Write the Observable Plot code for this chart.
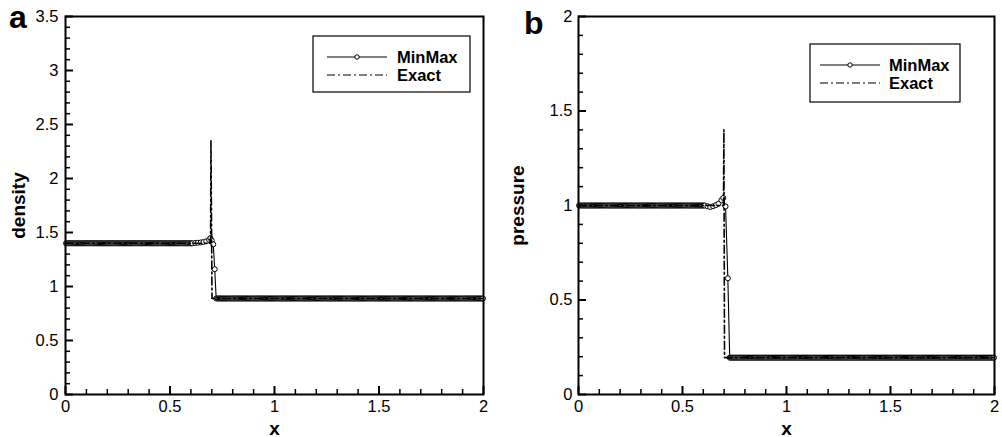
<!DOCTYPE html>
<html>
<head>
<meta charset="utf-8">
<script src="https://cdn.jsdelivr.net/npm/d3@7"></script>
<script src="https://cdn.jsdelivr.net/npm/@observablehq/plot@0.6"></script>
<style>
  html, body { margin: 0; padding: 0; background: white; }
  body { width: 1002px; height: 437px; overflow: hidden; font-family: "Liberation Sans", Arial, Helvetica, sans-serif; color: black; }
  #wrap { position: relative; width: 1002px; height: 437px; }
  .panel { position: absolute; top: 0; width: 501px; height: 437px; }
  .panel svg.plot { position: absolute; left: 0; top: 0; }
  .panel svg.overlay { position: absolute; left: 0; top: 0; pointer-events: none; }
  g[aria-label="y-axis label"], g[aria-label="x-axis label"] { font-weight: bold !important; font-size: 19px !important; fill: black !important; }
  g[aria-label="y-axis tick label"], g[aria-label="x-axis tick label"] { font-size: 16.5px !important; fill: black !important; }
</style>
</head>
<body>
<div id="wrap"></div>
<script>
// ---------------- data ----------------
const xDomain = [0, 2];
const xMajorTicks = [0, 0.5, 1, 1.5, 2];
const xMinorTicks = [0.1, 0.2, 0.3, 0.4, 0.6, 0.7, 0.8, 0.9, 1.1, 1.2, 1.3, 1.4, 1.6, 1.7, 1.8, 1.9];

const densityDomain = [0, 3.5];
const densityMajorTicks = [0, 0.5, 1, 1.5, 2, 2.5, 3, 3.5];
const pressureDomain = [0, 2];
const pressureMajorTicks = [0, 0.5, 1, 1.5, 2];

const meshCells = 400;

// MinMax scheme: flat states on both sides of the wave
const densityLeft = 1.4;
const densityRight = 0.889;
const pressureLeft = 1.0;
const pressureRight = 0.195;

// MinMax scheme: cells read near the discontinuity
const densityTransX = [0.607, 0.620, 0.633, 0.647, 0.660, 0.673, 0.687, 0.693, 0.700, 0.707, 0.714, 0.721];
const densityTransY = [1.400, 1.403, 1.405, 1.408, 1.412, 1.418, 1.432, 1.448, 1.425, 1.390, 1.160, 0.889];
const pressureTransX = [0.607, 0.620, 0.633, 0.647, 0.660, 0.673, 0.687, 0.696, 0.707, 0.718, 0.727];
const pressureTransY = [1.000, 0.996, 0.992, 0.996, 1.002, 1.010, 1.028, 1.040, 0.995, 0.615, 0.195];

// Exact solution (dash-dot)
const exactDensityX = [0, 0.694, 0.696, 0.701, 2];
const exactDensityY = [1.4, 1.4, 2.35, 0.889, 0.889];
const exactPressureX = [0, 0.697, 0.699, 0.702, 2];
const exactPressureY = [1.0, 1.0, 1.40, 0.195, 0.195];

// ---------------- build tables ----------------
function minmaxSeries(left, right, tx, ty) {
  const lo = tx[0], hi = tx[tx.length - 1];
  const pts = [];
  for (let i = 0; i < meshCells; i++) {
    const x = (i + 0.5) * (xDomain[1] - xDomain[0]) / meshCells;
    if (x < lo - 0.004) pts.push({x, y: left});
    else if (x > hi + 0.004) pts.push({x, y: right});
  }
  tx.forEach((x, i) => pts.push({x, y: ty[i]}));
  return pts.sort((a, b) => a.x - b.x);
}
function zipXY(xs, ys) { return xs.map((x, i) => ({x, y: ys[i]})); }
function minorOf(major) {
  const out = [];
  for (let i = 0; i < major.length - 1; i++)
    for (let k = 1; k < 5; k++) out.push(+(major[i] + k * (major[i + 1] - major[i]) / 5).toFixed(3));
  return out;
}

const densityMinMax = minmaxSeries(densityLeft, densityRight, densityTransX, densityTransY);
const pressureMinMax = minmaxSeries(pressureLeft, pressureRight, pressureTransX, pressureTransY);
const densityExact = zipXY(exactDensityX, exactDensityY);
const pressureExact = zipXY(exactPressureX, exactPressureY);

const fmt = d => String(d);
const W = 501, H = 437, MT = 16, MB = 43;
const FONT = "Liberation Sans, Arial, Helvetica, sans-serif";

function panel(cfg) {
  const innerW = W - cfg.marginLeft - cfg.marginRight;
  const innerH = H - MT - MB;
  const yMinor = minorOf(cfg.yTicks);
  return Plot.plot({
    width: W, height: H,
    marginLeft: cfg.marginLeft, marginRight: cfg.marginRight, marginTop: MT, marginBottom: MB,
    x: {domain: xDomain},
    y: {domain: cfg.yDomain},
    style: {background: "white", color: "black", fontFamily: FONT, fontSize: "16.5px", overflow: "visible"},
    marks: [
      Plot.line(cfg.minmax, {x: "x", y: "y", stroke: "black", strokeWidth: 1.1}),
      Plot.dot(cfg.minmax, {x: "x", y: "y", r: 2.5, stroke: "black", strokeWidth: 1, fill: "white"}),
      Plot.line(cfg.exact, {x: "x", y: "y", stroke: "black", strokeWidth: 1.6, strokeDasharray: "8,3,2,3"}),
      Plot.tickX(xMajorTicks, {x: d => d, insetTop: innerH - 8, stroke: "black", strokeWidth: 2}),
      Plot.tickX(xMinorTicks, {x: d => d, insetTop: innerH - 5, stroke: "black", strokeWidth: 1.5}),
      Plot.tickY(cfg.yTicks, {y: d => d, insetRight: innerW - 8, stroke: "black", strokeWidth: 2}),
      Plot.tickY(yMinor, {y: d => d, insetRight: innerW - 5, stroke: "black", strokeWidth: 1.5}),
      Plot.axisX({ticks: xMajorTicks, tickSize: 0, tickPadding: 6, tickFormat: fmt, fontSize: 16.5, fill: "black",
                  label: "x", labelAnchor: "center", labelOffset: 40, labelArrow: "none"}),
      Plot.axisY({ticks: cfg.yTicks, tickSize: 0, tickPadding: cfg.tickPadY, tickFormat: fmt, fontSize: 16.5, fill: "black",
                  label: cfg.label, labelAnchor: "center", labelOffset: cfg.labelOffset, labelArrow: "none"}),
      Plot.frame({stroke: "black", strokeWidth: 2})
    ]
  });
}

function legend(svg, box) {
  const g = svg.append("g");
  g.append("rect").attr("x", box.x).attr("y", box.y).attr("width", box.w).attr("height", box.h)
    .attr("fill", "white").attr("stroke", "black").attr("stroke-width", 1.2);
  const r1 = box.y + box.row1, r2 = box.y + box.row2;
  g.append("line").attr("x1", box.x + box.s0).attr("x2", box.x + box.s1).attr("y1", r1).attr("y2", r1)
    .attr("stroke", "black").attr("stroke-width", 1);
  g.append("circle").attr("cx", box.x + (box.s0 + box.s1) / 2).attr("cy", r1).attr("r", 2.2)
    .attr("fill", "white").attr("stroke", "black").attr("stroke-width", 1);
  g.append("line").attr("x1", box.x + box.s0).attr("x2", box.x + box.s1).attr("y1", r2).attr("y2", r2)
    .attr("stroke", "black").attr("stroke-width", 1.2).attr("stroke-dasharray", "8,3,2,3");
  [["MinMax", r1], ["Exact", r2]].forEach(([t, y]) => {
    g.append("text").attr("x", box.x + box.tx).attr("y", y).attr("dy", "0.36em")
      .attr("font-size", 16.5).attr("font-weight", "bold").attr("fill", "black")
      .attr("font-family", FONT).text(t);
  });
}

const wrap = d3.select("#wrap");
const panels = [
  {left: 0, letter: "a", letterX: 9, letterY: 28, yDomain: densityDomain, yTicks: densityMajorTicks, label: "density",
   minmax: densityMinMax, exact: densityExact, marginLeft: 65, marginRight: 18, labelOffset: 54, tickPadY: 7,
   box: {x: 313, y: 36, w: 157, h: 56, row1: 21, row2: 39, s0: 14, s1: 74, tx: 84}},
  {left: 501, letter: "b", letterX: 23, letterY: 34, yDomain: pressureDomain, yTicks: pressureMajorTicks, label: "pressure",
   minmax: pressureMinMax, exact: pressureExact, marginLeft: 77, marginRight: 8, labelOffset: 68, tickPadY: 6,
   box: {x: 309, y: 44, w: 150, h: 58, row1: 21, row2: 39, s0: 10, s1: 70, tx: 79}}
];

panels.forEach(p => {
  const div = wrap.append("div").attr("class", "panel").style("left", p.left + "px");
  const chart = panel(p);
  chart.classList.add("plot");
  div.node().appendChild(chart);
  const ov = div.append("svg").attr("class", "overlay").attr("width", W).attr("height", H);
  ov.append("text").attr("x", p.letterX).attr("y", p.letterY).attr("font-size", 32).attr("font-weight", "bold")
    .attr("font-family", FONT).attr("fill", "black").text(p.letter);
  legend(ov, p.box);
});
</script>
</body>
</html>
